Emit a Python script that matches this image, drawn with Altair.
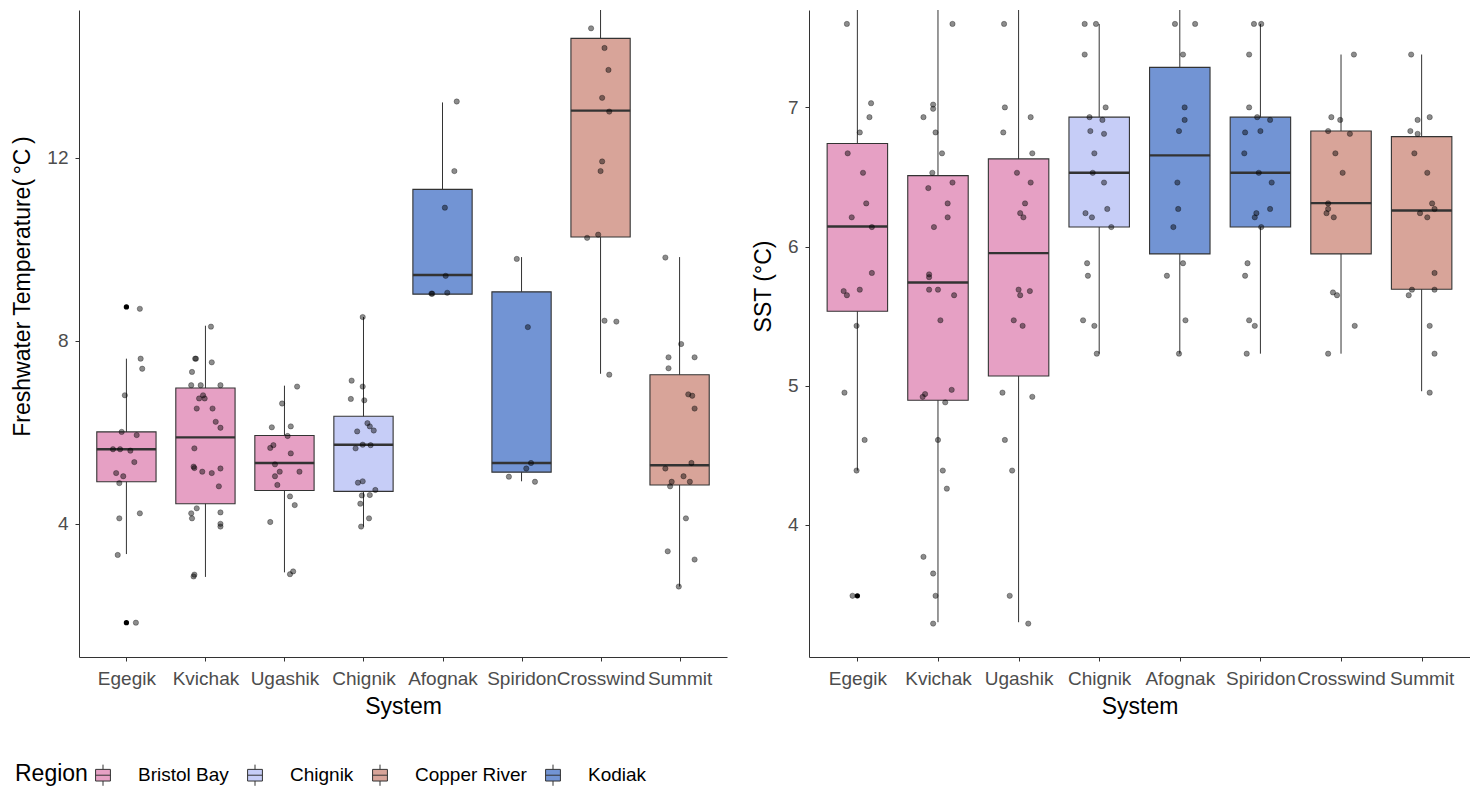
import altair as alt
import pandas as pd

systems = ["Egegik", "Kvichak", "Ugashik", "Chignik", "Afognak", "Spiridon", "Crosswind", "Summit"]
system_region = ["Bristol Bay", "Bristol Bay", "Bristol Bay", "Chignik", "Kodiak", "Kodiak",
                 "Copper River", "Copper River"]
regions = ["Bristol Bay", "Chignik", "Copper River", "Kodiak"]
region_colors = ["#E6A0C4", "#C6CDF7", "#D8A499", "#7294D4"]

# ---- Freshwater temperature box statistics ----
fw_low = [3.34, 2.84, 2.94, 3.94, 9.02, 4.93, 7.28, 2.63]
fw_q1 = [4.92, 4.44, 4.73, 4.71, 9.02, 5.13, 10.27, 4.85]
fw_med = [5.63, 5.89, 5.33, 5.73, 9.44, 5.33, 13.03, 5.28]
fw_q3 = [6.01, 6.97, 5.93, 6.35, 11.31, 9.07, 14.61, 7.26]
fw_high = [7.61, 8.33, 7.02, 8.52, 13.21, 9.83, 16.50, 9.83]
fw_out_system = ["Egegik", "Egegik", "Spiridon"]
fw_out_value = [8.74, 1.84, 15.30]

fw_values = {
    "Egegik": [8.70, 7.61, 7.39, 6.81, 6.01, 5.94, 5.63, 5.63, 5.60, 5.35, 5.11, 5.04, 4.89, 4.23, 4.12, 3.32, 1.84],
    "Kvichak": [8.31, 7.61, 7.61, 7.53, 7.32, 7.03, 7.03, 7.03, 6.81, 6.74, 6.74, 6.52, 6.52, 6.23, 6.10,
                5.65, 5.25, 5.22, 5.14, 5.11, 5.21, 4.82, 4.34, 4.23, 4.12, 4.25, 4.00, 3.94, 2.89, 2.85],
    "Ugashik": [7.00, 6.63, 6.11, 6.13, 5.92, 5.72, 5.66, 5.54, 5.30, 5.14, 5.14, 5.04, 4.85, 4.60, 4.41, 4.04, 2.96, 2.90],
    "Chignik": [8.52, 7.13, 7.00, 6.73, 6.70, 6.20, 6.13, 6.04, 6.02, 5.73, 5.72, 5.65, 4.93, 4.90, 4.74,
                4.63, 4.62, 4.44, 4.12, 3.94],
    "Afognak": [13.23, 11.71, 10.91, 9.42, 9.03, 9.03, 9.05],
    "Spiridon": [15.30, 9.79, 8.30, 5.33, 5.21, 5.03, 4.92],
    "Crosswind": [14.83, 14.40, 13.92, 13.31, 13.01, 11.92, 11.71, 10.32, 10.25, 8.44, 8.42, 7.26],
    "Summit": [9.82, 7.93, 7.64, 7.64, 7.40, 6.83, 6.80, 6.52, 5.33, 5.21, 5.04, 4.92, 4.92, 4.82, 4.12, 3.40, 3.22, 2.63],
}
fw_jitter = {
    "Egegik": [0.17, 0.18, 0.20, -0.02, -0.06, 0.13, -0.17, -0.08, 0.05, 0.10, -0.13, -0.04, -0.09, 0.17, -0.09, -0.11, 0.12],
    "Kvichak": [0.07, -0.13, -0.12, 0.08, -0.17, -0.18, -0.06, 0.19, -0.03, -0.08, -0.01, -0.11, 0.09, 0.13, 0.19,
                -0.14, -0.15, -0.14, -0.04, 0.08, 0.19, 0.17, -0.11, -0.18, -0.17, 0.19, 0.19, 0.19, -0.14, -0.15],
    "Ugashik": [0.16, -0.03, -0.16, 0.08, 0.04, -0.14, -0.18, 0.08, -0.12, -0.06, 0.19, -0.12, -0.09, 0.07, 0.13, -0.18, 0.11, 0.07],
    "Chignik": [-0.01, -0.15, -0.01, -0.16, 0.01, 0.05, 0.08, 0.13, -0.08, -0.01, 0.09, -0.10, -0.01, -0.07, 0.15,
                0.08, -0.02, -0.04, 0.07, -0.03],
    "Afognak": [0.18, 0.15, 0.03, 0.04, -0.14, -0.13, 0.06],
    "Spiridon": [0.02, -0.06, 0.08, 0.12, 0.06, -0.16, 0.17],
    "Crosswind": [-0.12, 0.05, 0.10, 0.02, 0.11, 0.02, 0.00, -0.03, -0.17, 0.05, 0.20, 0.11],
    "Summit": [-0.18, 0.02, -0.14, 0.19, -0.14, 0.11, 0.16, 0.19, 0.15, -0.18, 0.05, -0.10, 0.13, -0.12, 0.08, -0.15, 0.19, -0.01],
}

# ---- SST box statistics ----
sst_low = [4.39, 3.30, 3.30, 5.23, 5.23, 5.23, 5.23, 4.96]
sst_q1 = [5.535, 4.895, 5.07, 6.14, 5.947, 6.14, 5.947, 5.693]
sst_med = [6.144, 5.741, 5.953, 6.53, 6.655, 6.53, 6.312, 6.259]
sst_q3 = [6.74, 6.51, 6.63, 6.93, 7.288, 6.93, 6.83, 6.79]
sst_high = [8.0, 8.0, 8.0, 7.60, 8.0, 7.60, 7.38, 7.38]
sst_out_system = ["Egegik"]
sst_out_value = [3.49]

sst_values = {
    "Egegik": [7.60, 7.03, 6.93, 6.82, 6.67, 6.53, 6.31, 6.21, 6.14, 5.81, 5.69, 5.68, 5.65, 5.43, 4.95, 4.61, 4.39, 3.49],
    "Kvichak": [7.60, 7.02, 6.99, 6.93, 6.82, 6.67, 6.53, 6.46, 6.42, 6.31, 6.21, 6.14, 5.80, 5.78, 5.69,
                5.69, 5.65, 5.47, 4.97, 4.94, 4.92, 4.88, 4.61, 4.39, 4.26, 3.77, 3.65, 3.49, 3.29],
    "Ugashik": [7.60, 7.00, 6.93, 6.82, 6.67, 6.53, 6.46, 6.31, 6.24, 6.21, 5.69, 5.68, 5.65, 5.47, 5.43,
                4.95, 4.92, 4.61, 4.39, 3.49, 3.29],
    "Chignik": [7.60, 7.60, 7.38, 7.00, 6.93, 6.91, 6.83, 6.81, 6.67, 6.53, 6.46, 6.27, 6.24, 6.21, 6.14,
                5.88, 5.79, 5.47, 5.43, 5.23],
    "Afognak": [7.60, 7.60, 7.38, 7.00, 6.91, 6.83, 6.46, 6.27, 6.14, 5.88, 5.79, 5.47, 5.23],
    "Spiridon": [7.60, 7.60, 7.38, 7.00, 6.93, 6.91, 6.82, 6.83, 6.67, 6.53, 6.46, 6.27, 6.24, 6.21, 6.14,
                 5.88, 5.79, 5.47, 5.43, 5.23],
    "Crosswind": [7.38, 6.93, 6.91, 6.83, 6.81, 6.67, 6.53, 6.31, 6.27, 6.24, 6.21, 5.67, 5.65, 5.43, 5.23],
    "Summit": [7.38, 6.93, 6.91, 6.83, 6.81, 6.67, 6.53, 6.31, 6.27, 6.24, 6.21, 5.81, 5.69, 5.69, 5.65, 5.43, 5.23, 4.95],
}
sst_jitter = {
    "Egegik": [-0.13, 0.17, 0.15, 0.03, -0.12, 0.07, 0.11, -0.07, 0.18, 0.18, 0.03, -0.17, -0.13, -0.01, -0.16, 0.09, -0.01, -0.06],
    "Kvichak": [0.18, -0.06, -0.06, -0.18, -0.03, 0.05, -0.07, 0.18, -0.12, 0.12, 0.12, -0.05, -0.11, -0.11, -0.11,
                0.00, 0.20, 0.03, 0.17, -0.16, -0.19, 0.09, 0.00, 0.06, 0.11, -0.18, -0.06, -0.03, -0.06],
    "Ugashik": [-0.18, -0.17, 0.15, -0.19, 0.17, -0.02, 0.15, 0.08, 0.02, 0.06, 0.00, 0.14, 0.02, -0.06, 0.05,
                -0.20, 0.17, -0.17, -0.08, -0.11, 0.12],
    "Chignik": [-0.18, -0.04, -0.18, 0.08, -0.12, 0.04, -0.11, 0.06, -0.06, -0.08, 0.06, 0.10, -0.17, -0.09, 0.15,
                -0.15, -0.14, -0.20, -0.06, -0.03],
    "Afognak": [-0.06, 0.19, 0.04, 0.06, 0.06, -0.01, -0.03, -0.02, -0.08, 0.04, -0.16, 0.07, -0.01],
    "Spiridon": [-0.08, 0.01, -0.14, -0.14, -0.04, 0.12, -0.19, 0.00, -0.20, -0.02, 0.14, 0.12, -0.05, -0.07, 0.01,
                 -0.16, -0.19, -0.14, -0.07, -0.17],
    "Crosswind": [0.16, -0.12, -0.01, -0.16, 0.11, -0.07, 0.02, -0.16, -0.16, -0.18, -0.09, -0.10, -0.05, 0.17, -0.16],
    "Summit": [-0.13, 0.10, -0.05, -0.14, -0.05, -0.09, 0.07, 0.13, 0.16, -0.02, 0.07, 0.16, -0.12, 0.16, -0.16, 0.10, 0.16, 0.10],
}

FONT = "Liberation Sans"
label_expr = "[" + ",".join("'%s'" % s for s in systems) + "][datum.value - 1]"


def stats_frame(low, q1, med, q3, high):
    return pd.DataFrame({
        "idx": list(range(1, len(systems) + 1)),
        "system": systems,
        "region": system_region,
        "low": low, "q1": q1, "med": med, "q3": q3, "high": high,
    })


def points_frame(values, jitter):
    rows = []
    for i, s in enumerate(systems):
        for v, j in zip(values[s], jitter[s]):
            rows.append({"idx": i + 1, "value": v, "jit": j})
    return pd.DataFrame(rows)


def outlier_frame(sys_list, vals):
    return pd.DataFrame({"idx": [systems.index(s) + 1 for s in sys_list], "value": vals})


def panel(stats, pts, outl, ydom, yticks, ytitle, width):
    xsc = alt.Scale(domain=[0.4, 8.6], nice=False, zero=False)
    ysc = alt.Scale(domain=ydom, nice=False, zero=False)
    xaxis = alt.Axis(values=list(range(1, 9)), labelExpr=label_expr, title="System",
                     labelOverlap=False, labelFlush=False, labelPadding=8, titlePadding=7)
    yaxis = alt.Axis(values=yticks, format="d", title=ytitle, labelPadding=7, titlePadding=12,
                     titleY=276)

    base = alt.Chart(stats)
    whisk = base.mark_rule(color="#333333", strokeWidth=1, clip=True).encode(
        x=alt.X("idx:Q", scale=xsc, axis=xaxis),
        y=alt.Y("low:Q", scale=ysc, axis=yaxis),
        y2="high:Q",
    )
    box = base.transform_calculate(
        xl="datum.idx - 0.375", xr="datum.idx + 0.375"
    ).mark_rect(stroke="#333333", strokeWidth=1.1, clip=True).encode(
        x="xl:Q", x2="xr:Q", y="q1:Q", y2="q3:Q",
        fill=alt.Fill("region:N", scale=alt.Scale(domain=regions, range=region_colors),
                      legend=alt.Legend(title="Region")),
    )
    med = base.transform_calculate(
        xl="datum.idx - 0.375", xr="datum.idx + 0.375"
    ).mark_rule(color="#333333", strokeWidth=2.4, clip=True).encode(
        x="xl:Q", x2="xr:Q", y="med:Q"
    )
    out = alt.Chart(outl).mark_circle(color="black", opacity=1, size=28, clip=True).encode(
        x="idx:Q", y="value:Q"
    )
    dots = alt.Chart(pts).transform_calculate(xp="datum.idx + datum.jit").mark_point(
        filled=True, fill="black", fillOpacity=0.45, stroke="black", strokeOpacity=0.45,
        strokeWidth=0.7, size=28, shape="circle", clip=True
    ).encode(x="xp:Q", y="value:Q")
    return alt.layer(whisk, box, med, out, dots).properties(width=width, height=647)


left = panel(stats_frame(fw_low, fw_q1, fw_med, fw_q3, fw_high),
             points_frame(fw_values, fw_jitter),
             outlier_frame(fw_out_system, fw_out_value),
             [1.09, 15.23], [4, 8, 12], "Freshwater Temperature(\u2009°C\u2009)", 648)
right = panel(stats_frame(sst_low, sst_q1, sst_med, sst_q3, sst_high),
              points_frame(sst_values, sst_jitter),
              outlier_frame(sst_out_system, sst_out_value),
              [3.05, 7.70], [4, 5, 6, 7], "SST (°C)", 661)

box_symbol = "M-0.56,-0.44H0.56V0.44H-0.56Z M-0.56,0H0.56 M0,-0.44V-0.8 M0,0.44V0.8"

chart = alt.hconcat(left, right, spacing=25).properties(
    padding={"left": 3, "top": 2, "right": 0, "bottom": 0}
).configure_view(stroke=None).configure_axis(
    grid=False, domainColor="#333333", domainWidth=1, tickColor="#333333", tickSize=4,
    tickWidth=1, labelColor="#4D4D4D", labelFont=FONT, labelFontSize=19,
    titleFont=FONT, titleFontSize=23, titleFontWeight="normal", titleColor="black",
).configure_legend(
    orient="none", legendX=-64, legendY=751, direction="horizontal", titleOrient="left",
    titleFont=FONT, titleFontSize=23, titleFontWeight="normal", titleColor="black",
    titlePadding=1, labelFont=FONT, labelFontSize=19, labelColor="black",
    symbolType=box_symbol, symbolSize=700, symbolStrokeColor="#333333", symbolStrokeWidth=1,
    symbolOpacity=1, labelOffset=21, columnPadding=12,
)

chart.save("out.html", embed_options={"renderer": "svg", "actions": False})
